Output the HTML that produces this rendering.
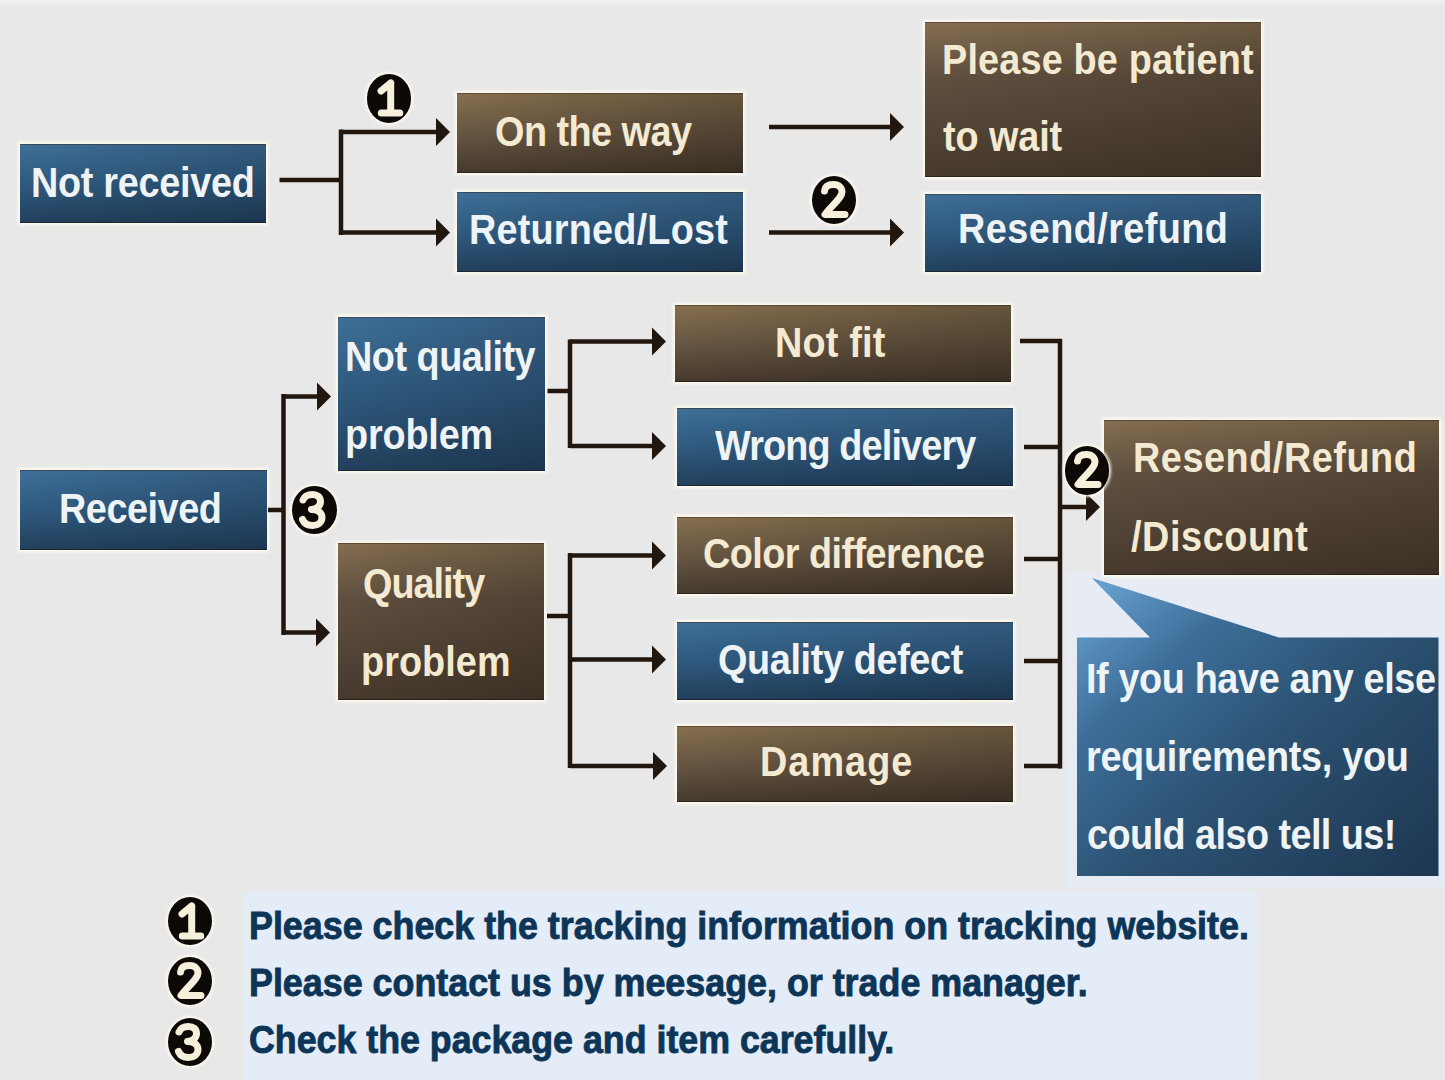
<!DOCTYPE html>
<html><head><meta charset="utf-8"><style>
html,body{margin:0;padding:0}
body{width:1445px;height:1080px;overflow:hidden;position:relative;background:#e8e8e8;font-family:'Liberation Sans',sans-serif}
.box{position:absolute;box-shadow:inset 0 1px 0 rgba(50,32,18,0.45),inset 0 -1px 0 rgba(20,14,8,0.5),0 0 3px 2px rgba(255,252,240,0.95)}
.blue{background:linear-gradient(90deg,rgba(8,16,30,0) 0%,rgba(8,16,30,0.22) 100%),linear-gradient(180deg,#3f6f98 0%,#2f5a7f 50%,#22405c 100%)}
.brown{background:linear-gradient(90deg,rgba(20,14,8,0) 0%,rgba(20,14,8,0.28) 100%),linear-gradient(180deg,#86704f 0%,#675642 50%,#453a2d 100%)}
.tall.brown{background:linear-gradient(90deg,rgba(20,14,8,0) 0%,rgba(20,14,8,0.22) 100%),linear-gradient(180deg,#846e50 0%,#605040 35%,#463a2d 100%)}
.txt{position:absolute;white-space:pre;line-height:1;font-weight:bold;transform-origin:0 0}
.tw{color:#eef3f6}
.tc{color:#f4ead2}
.tb{color:#0c3557;-webkit-text-stroke:0.9px #0c3557}

svg{position:absolute;left:0;top:0}
.circ{position:absolute;border-radius:50%;background:#0c0907;box-shadow:0 0 3px 2px rgba(255,252,240,0.9)}
</style></head><body>
<div style="position:absolute;left:0;top:0;width:1445px;height:6px;background:linear-gradient(180deg,#f1f1f1,#e8e8e8)"></div>
<div style="position:absolute;left:1068px;top:575px;width:377px;height:310px;background:#e7ecf4;box-shadow:0 0 4px 2px #e7ecf4"></div>
<div style="position:absolute;left:246px;top:894px;width:1010px;height:186px;background:#e4ecf7;box-shadow:0 0 4px 2px #e4ecf7"></div>
<div class="box blue" style="left:20px;top:144px;width:246px;height:79px"></div>
<div class="box brown" style="left:457px;top:93px;width:286px;height:79.5px"></div>
<div class="box blue" style="left:457px;top:192px;width:286px;height:79.5px"></div>
<div class="box brown tall" style="left:925px;top:22px;width:336px;height:155px"></div>
<div class="box blue" style="left:925px;top:194px;width:336px;height:77.5px"></div>
<div class="box blue tall" style="left:338px;top:316.5px;width:206.5px;height:154.5px"></div>
<div class="box blue" style="left:20px;top:469.5px;width:246.5px;height:80.0px"></div>
<div class="box brown tall" style="left:337.5px;top:543px;width:206.5px;height:157px"></div>
<div class="box brown" style="left:675px;top:305px;width:336px;height:77px"></div>
<div class="box blue" style="left:677px;top:408px;width:336px;height:77.5px"></div>
<div class="box brown" style="left:677px;top:517px;width:336px;height:77px"></div>
<div class="box blue" style="left:677px;top:622px;width:336px;height:77.5px"></div>
<div class="box brown" style="left:677px;top:725.5px;width:336px;height:76.5px"></div>
<div class="box brown tall" style="left:1103.5px;top:420px;width:335.0px;height:154.5px"></div>
<svg width="1445" height="1080" viewBox="0 0 1445 1080"><defs><linearGradient id="gb" gradientUnits="userSpaceOnUse" x1="1095" y1="585" x2="1380" y2="900"><stop offset="0" stop-color="#67a0cf"/><stop offset="0.25" stop-color="#3d6e99"/><stop offset="0.55" stop-color="#2c5273"/><stop offset="1" stop-color="#1e3954"/></linearGradient></defs><polygon points="1092,578 1150,637.5 1077,637.5 1077,876 1438.5,876 1438.5,637.5 1279,637.5" fill="url(#gb)"/><rect x="279.5" y="177.75" width="63.5" height="4.5" fill="#21170f"/><rect x="338.75" y="129.5" width="4.5" height="105.5" fill="#21170f"/><rect x="341" y="129.75" width="96" height="4.5" fill="#21170f"/><polygon points="436,118.0 450,132 436,146.0" fill="#21170f"/><rect x="341" y="230.25" width="96" height="4.5" fill="#21170f"/><polygon points="436,218.5 450,232.5 436,246.5" fill="#21170f"/><rect x="769" y="124.75" width="122" height="4.5" fill="#21170f"/><polygon points="890,113.0 904,127 890,141.0" fill="#21170f"/><rect x="769" y="230.25" width="122" height="4.5" fill="#21170f"/><polygon points="890,218.5 904,232.5 890,246.5" fill="#21170f"/><rect x="268" y="507.75" width="17" height="4.5" fill="#21170f"/><rect x="281.25" y="394" width="4.5" height="241" fill="#21170f"/><rect x="283.5" y="394.25" width="34.5" height="4.5" fill="#21170f"/><polygon points="317,382.5 331,396.5 317,410.5" fill="#21170f"/><rect x="283.5" y="630.25" width="33.5" height="4.5" fill="#21170f"/><polygon points="316,618.5 330,632.5 316,646.5" fill="#21170f"/><rect x="547.5" y="388.75" width="24.5" height="4.5" fill="#21170f"/><rect x="567.75" y="339.5" width="4.5" height="108.5" fill="#21170f"/><rect x="570" y="339.25" width="83" height="4.5" fill="#21170f"/><polygon points="652,327.5 666,341.5 652,355.5" fill="#21170f"/><rect x="570" y="443.75" width="83" height="4.5" fill="#21170f"/><polygon points="652,432.0 666,446 652,460.0" fill="#21170f"/><rect x="547" y="613.75" width="25" height="4.5" fill="#21170f"/><rect x="567.75" y="553" width="4.5" height="215" fill="#21170f"/><rect x="570" y="553.25" width="83" height="4.5" fill="#21170f"/><polygon points="652,541.5 666,555.5 652,569.5" fill="#21170f"/><rect x="570" y="657.25" width="83" height="4.5" fill="#21170f"/><polygon points="652,645.5 666,659.5 652,673.5" fill="#21170f"/><rect x="570" y="763.75" width="84" height="4.5" fill="#21170f"/><polygon points="653,752.0 667,766 653,780.0" fill="#21170f"/><rect x="1020" y="338.75" width="42" height="4.5" fill="#21170f"/><rect x="1024" y="444.75" width="38" height="4.5" fill="#21170f"/><rect x="1024" y="556.75" width="38" height="4.5" fill="#21170f"/><rect x="1024" y="658.75" width="38" height="4.5" fill="#21170f"/><rect x="1024" y="763.75" width="38" height="4.5" fill="#21170f"/><rect x="1057.75" y="339" width="4.5" height="429.5" fill="#21170f"/><rect x="1060" y="504.75" width="27" height="4.5" fill="#21170f"/><polygon points="1086,493.0 1100,507 1086,521.0" fill="#21170f"/></svg>
<svg class="circ" style="left:366.75px;top:74.05px" width="44.5" height="48.5" viewBox="0 0 44.5 48.5"><g fill="none" stroke="#f6efdc" stroke-width="7" stroke-linecap="round" stroke-linejoin="round"><path d="M23.7 9 L23.7 38 M23.7 9 L14 17 M14.3 39 L32.8 39"/></g></svg>
<svg class="circ" style="left:811.75px;top:175.75px" width="44.5" height="48.5" viewBox="0 0 44.5 48.5"><g fill="none" stroke="#f6efdc" stroke-width="7" stroke-linecap="round" stroke-linejoin="round"><path d="M12.5 15 C13 9.5 17.5 8.5 21.5 8.5 C27 8.5 30 12 30 16 C30 22 20 29 13 38.5 L33 38.5"/></g></svg>
<svg class="circ" style="left:292.25px;top:485.75px" width="44.5" height="48.5" viewBox="0 0 44.5 48.5"><g fill="none" stroke="#f6efdc" stroke-width="7" stroke-linecap="round" stroke-linejoin="round"><path d="M11 14 C13 9 17 8.5 20.5 8.5 C25 8.5 28.5 11 28.5 15.5 C28.5 20 24.5 23 19.5 23.5 C26 23.5 30 27 30 31.5 C30 36.5 25.5 39.5 20.5 39.5 C15.5 39.5 12 37 10.5 33.5"/></g></svg>
<svg class="circ" style="left:1064.75px;top:446.25px" width="44.5" height="48.5" viewBox="0 0 44.5 48.5"><g fill="none" stroke="#f6efdc" stroke-width="7" stroke-linecap="round" stroke-linejoin="round"><path d="M12.5 15 C13 9.5 17.5 8.5 21.5 8.5 C27 8.5 30 12 30 16 C30 22 20 29 13 38.5 L33 38.5"/></g></svg>
<svg class="circ" style="left:167.75px;top:896.75px" width="44.5" height="48.5" viewBox="0 0 44.5 48.5"><g fill="none" stroke="#f6efdc" stroke-width="7" stroke-linecap="round" stroke-linejoin="round"><path d="M23.7 9 L23.7 38 M23.7 9 L14 17 M14.3 39 L32.8 39"/></g></svg>
<svg class="circ" style="left:167.75px;top:956.75px" width="44.5" height="48.5" viewBox="0 0 44.5 48.5"><g fill="none" stroke="#f6efdc" stroke-width="7" stroke-linecap="round" stroke-linejoin="round"><path d="M12.5 15 C13 9.5 17.5 8.5 21.5 8.5 C27 8.5 30 12 30 16 C30 22 20 29 13 38.5 L33 38.5"/></g></svg>
<svg class="circ" style="left:167.75px;top:1017.75px" width="44.5" height="48.5" viewBox="0 0 44.5 48.5"><g fill="none" stroke="#f6efdc" stroke-width="7" stroke-linecap="round" stroke-linejoin="round"><path d="M11 14 C13 9 17 8.5 20.5 8.5 C25 8.5 28.5 11 28.5 15.5 C28.5 20 24.5 23 19.5 23.5 C26 23.5 30 27 30 31.5 C30 36.5 25.5 39.5 20.5 39.5 C15.5 39.5 12 37 10.5 33.5"/></g></svg>
<div class="txt tw" style="left:30.6px;top:162.4px;font-size:42px;font-family:'Liberation Sans',sans-serif;transform:scaleX(0.900);letter-spacing:-0.31px">Not received</div>
<div class="txt tc" style="left:494.8px;top:111.0px;font-size:42px;font-family:'Liberation Sans',sans-serif;transform:scaleX(0.900);letter-spacing:-0.58px">On the way</div>
<div class="txt tw" style="left:469.4px;top:209.2px;font-size:42px;font-family:'Liberation Sans',sans-serif;transform:scaleX(0.900);letter-spacing:0.24px">Returned/Lost</div>
<div class="txt tc" style="left:941.6px;top:39.4px;font-size:42px;font-family:'Liberation Sans',sans-serif;transform:scaleX(0.900);letter-spacing:0.19px">Please be patient</div>
<div class="txt tc" style="left:943.0px;top:116.4px;font-size:42px;font-family:'Liberation Sans',sans-serif;transform:scaleX(0.900);letter-spacing:-0.09px">to wait</div>
<div class="txt tw" style="left:958.1px;top:208.4px;font-size:42px;font-family:'Liberation Sans',sans-serif;transform:scaleX(0.900);letter-spacing:0.49px">Resend/refund</div>
<div class="txt tw" style="left:345.1px;top:336.4px;font-size:42px;font-family:'Liberation Sans',sans-serif;transform:scaleX(0.900);letter-spacing:-0.52px">Not quality</div>
<div class="txt tw" style="left:345.1px;top:414.4px;font-size:42px;font-family:'Liberation Sans',sans-serif;transform:scaleX(0.900);letter-spacing:-0.17px">problem</div>
<div class="txt tw" style="left:58.6px;top:488.1px;font-size:42px;font-family:'Liberation Sans',sans-serif;transform:scaleX(0.900);letter-spacing:-0.51px">Received</div>
<div class="txt tc" style="left:362.5px;top:563.4px;font-size:42px;font-family:'Liberation Sans',sans-serif;transform:scaleX(0.900);letter-spacing:-1.09px">Quality</div>
<div class="txt tc" style="left:361.3px;top:641.1px;font-size:42px;font-family:'Liberation Sans',sans-serif;transform:scaleX(0.900);letter-spacing:0.07px">problem</div>
<div class="txt tc" style="left:774.6px;top:322.0px;font-size:42px;font-family:'Liberation Sans',sans-serif;transform:scaleX(0.900);letter-spacing:0.20px">Not fit</div>
<div class="txt tw" style="left:715.0px;top:425.4px;font-size:42px;font-family:'Liberation Sans',sans-serif;transform:scaleX(0.900);letter-spacing:-0.95px">Wrong delivery</div>
<div class="txt tc" style="left:702.8px;top:533.0px;font-size:42px;font-family:'Liberation Sans',sans-serif;transform:scaleX(0.900);letter-spacing:-0.60px">Color difference</div>
<div class="txt tw" style="left:718.4px;top:639.3px;font-size:42px;font-family:'Liberation Sans',sans-serif;transform:scaleX(0.900);letter-spacing:-0.40px">Quality defect</div>
<div class="txt tc" style="left:759.6px;top:741.0px;font-size:42px;font-family:'Liberation Sans',sans-serif;transform:scaleX(0.900);letter-spacing:1.16px">Damage</div>
<div class="txt tc" style="left:1132.6px;top:437.2px;font-size:42px;font-family:'Liberation Sans',sans-serif;transform:scaleX(0.900);letter-spacing:0.61px">Resend/Refund</div>
<div class="txt tc" style="left:1131.3px;top:515.9px;font-size:42px;font-family:'Liberation Sans',sans-serif;transform:scaleX(0.900);letter-spacing:0.65px">/Discount</div>
<div class="txt tw" style="left:1085.6px;top:658.3px;font-size:42px;font-family:'Liberation Sans',sans-serif;transform:scaleX(0.900);letter-spacing:-0.42px">If you have any else</div>
<div class="txt tw" style="left:1085.6px;top:736.2px;font-size:42px;font-family:'Liberation Sans',sans-serif;transform:scaleX(0.900);letter-spacing:-0.34px">requirements, you</div>
<div class="txt tw" style="left:1086.8px;top:814.0px;font-size:42px;font-family:'Liberation Sans',sans-serif;transform:scaleX(0.900);letter-spacing:-0.61px">could also tell us!</div>
<div class="txt tb" style="left:248.5px;top:905.5px;font-size:39px;font-family:'Liberation Sans',sans-serif;transform:scaleX(0.919);letter-spacing:0.00px">Please check the tracking information on tracking website.</div>
<div class="txt tb" style="left:248.8px;top:963.0px;font-size:39px;font-family:'Liberation Sans',sans-serif;transform:scaleX(0.919);letter-spacing:0.00px">Please contact us by meesage, or trade manager.</div>
<div class="txt tb" style="left:248.9px;top:1020.2px;font-size:39px;font-family:'Liberation Sans',sans-serif;transform:scaleX(0.917);letter-spacing:0.00px">Check the package and item carefully.</div>
</body></html>
